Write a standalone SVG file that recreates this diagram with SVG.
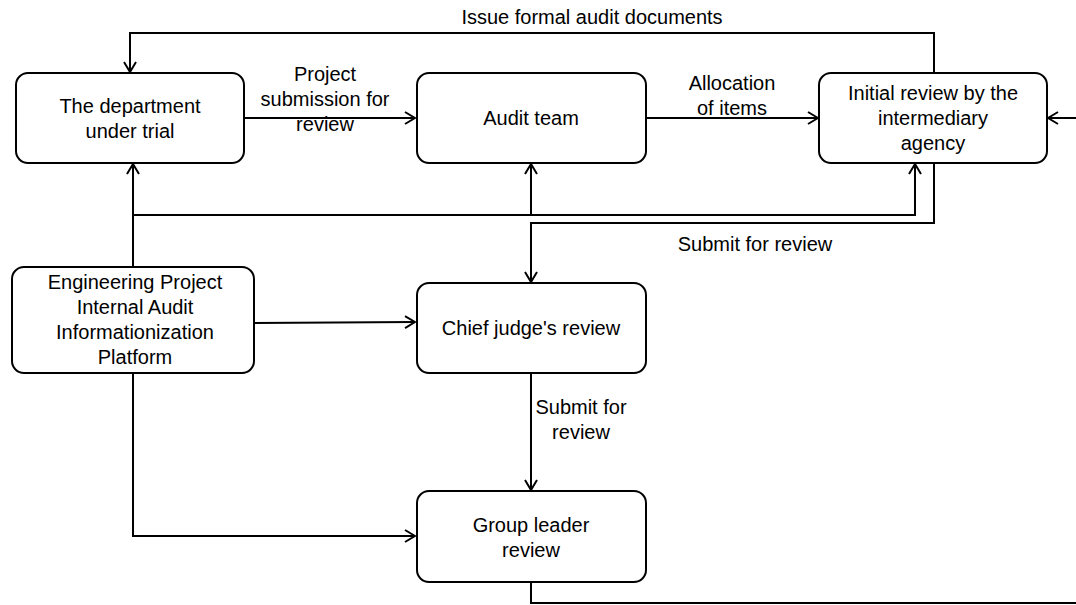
<svg xmlns="http://www.w3.org/2000/svg" width="1076" height="605" viewBox="0 0 1076 605">
<style>
.node rect{fill:#fff;stroke:#000;stroke-width:2}
text{font-family:"Liberation Sans",Arial,sans-serif;font-size:20px;fill:#000;text-anchor:middle}
.conn path{fill:none;stroke:#000;stroke-width:2}
</style>
<defs>
<marker id="arr" viewBox="0 0 12 14" refX="11" refY="7" markerWidth="12" markerHeight="14" markerUnits="userSpaceOnUse" orient="auto">
<path d="M1 1 L11 7 L1 13" fill="none" stroke="#000" stroke-width="2"/>
</marker>
</defs>
<rect width="1076" height="605" fill="#fff"/>
<g class="conn">
<path d="M133 267 V164" marker-end="url(#arr)"/>
<path d="M133 215 H531 V164" marker-end="url(#arr)"/>
<path d="M133 215 H915 V164" marker-end="url(#arr)"/>
<path d="M254 323 L415 322" marker-end="url(#arr)"/>
<path d="M133 373 V536 H415" marker-end="url(#arr)"/>
<path d="M244 118 H415" marker-end="url(#arr)"/>
<path d="M646 118 H818" marker-end="url(#arr)"/>
<path d="M934 73 V33 H130 V72" marker-end="url(#arr)"/>
<path d="M934 163 V223 H531 V282" marker-end="url(#arr)"/>
<path d="M531 373 V490" marker-end="url(#arr)"/>
<path d="M531 582 V603 H1100 V118 H1048" marker-end="url(#arr)"/>
<text x="592" y="24">Issue formal audit documents</text>
<text x="325" y="81">Project</text>
<text x="325" y="106">submission for</text>
<text x="325" y="131">review</text>
<text x="732" y="90">Allocation</text>
<text x="732" y="115">of items</text>
<text x="755" y="251">Submit for review</text>
<text x="581" y="414">Submit for</text>
<text x="581" y="439">review</text>
</g>
<g id="dept" class="node"><rect x="16" y="73" width="228" height="90" rx="12"/><text x="130" y="113">The department</text><text x="130" y="138">under trial</text></g>
<g id="audit" class="node"><rect x="417" y="73" width="229" height="90" rx="12"/><text x="531" y="125">Audit team</text></g>
<g id="initial" class="node"><rect x="819" y="73" width="228" height="90" rx="12"/><text x="933" y="100">Initial review by the</text><text x="933" y="125">intermediary</text><text x="933" y="150">agency</text></g>
<g id="platform" class="node"><rect x="12" y="267" width="242" height="106" rx="12"/><text x="135" y="289">Engineering Project</text><text x="135" y="314">Internal Audit</text><text x="135" y="339">Informationization</text><text x="135" y="364">Platform</text></g>
<g id="chief" class="node"><rect x="417" y="283" width="229" height="90" rx="12"/><text x="531" y="335">Chief judge's review</text></g>
<g id="group" class="node"><rect x="417" y="491" width="229" height="91" rx="12"/><text x="531" y="532">Group leader</text><text x="531" y="557">review</text></g>
</svg>
